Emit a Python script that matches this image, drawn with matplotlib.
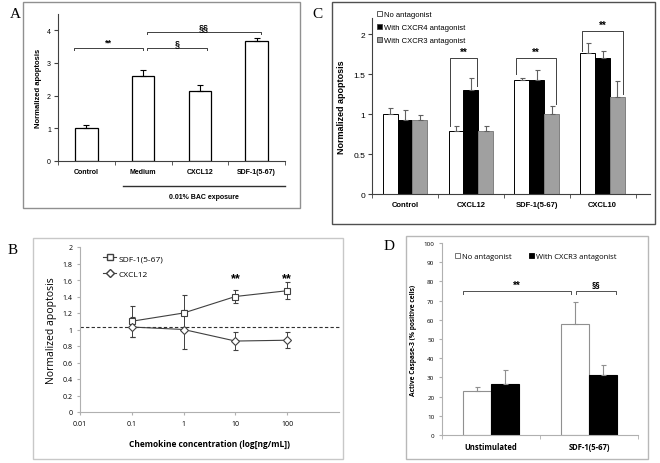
import matplotlib
matplotlib.use("Agg")
import matplotlib.pyplot as plt
import matplotlib.patches as mpatches
from matplotlib.lines import Line2D
import numpy as np

# ---------------- data ----------------
# Panel A
cats_A = ["Control", "Medium", "CXCL12", "SDF-1(5-67)"]
vals_A = [1.01, 2.59, 2.15, 3.67]
err_A = [0.09, 0.20, 0.19, 0.10]

# Panel C
cats_C = ["Control", "CXCL12", "SDF-1(5-67)", "CXCL10"]
series_C = ["No antagonist", "With CXCR4 antagonist", "With CXCR3 antagonist"]
no_ant_C = [1.00, 0.79, 1.42, 1.76]
no_ant_err_C = [0.07, 0.06, 0.03, 0.13]
cxcr4_C = [0.92, 1.30, 1.42, 1.70]
cxcr4_err_C = [0.13, 0.15, 0.13, 0.09]
cxcr3_C = [0.93, 0.79, 1.00, 1.21]
cxcr3_err_C = [0.06, 0.06, 0.10, 0.20]

# Panel B
conc_B = [0.1, 1, 10, 100]
sdf_B = [1.10, 1.20, 1.40, 1.47]
sdf_err_B = [0.19, 0.22, 0.08, 0.10]
cxcl12_B = [1.03, 1.00, 0.86, 0.87]
cxcl12_err_B = [0.12, 0.24, 0.11, 0.10]
baseline_B = 1.026
xtick_B = [0.01, 0.1, 1, 10, 100]
xticklabels_B = ["0.01", "0.1", "1", "10", "100"]

# Panel D
cats_D = ["Unstimulated", "SDF-1(5-67)"]
series_D = ["No antagonist", "With CXCR3 antagonist"]
no_ant_D = [23.0, 57.8]
no_ant_err_D = [2.2, 11.3]
cxcr3_D = [26.5, 31.3]
cxcr3_err_D = [7.5, 5.4]

# ---------------- figure ----------------
W, H = 660, 464
fig = plt.figure(figsize=(6.6, 4.64), dpi=100)
fig.patch.set_facecolor("white")

def rect(x0, y0, x1, y1):
    return [x0 / W, 1 - y1 / H, (x1 - x0) / W, (y1 - y0) / H]

def frame(x0, y0, x1, y1, color, lw=1.0):
    r = mpatches.Rectangle((x0 / W, 1 - y1 / H), (x1 - x0) / W, (y1 - y0) / H,
                           transform=fig.transFigure, fill=False, edgecolor=color, lw=lw)
    fig.patches.append(r)

frame(23, 3, 300, 209, "#909090")
frame(332, 3, 655, 225, "#505050")
frame(33, 239, 343, 460, "#c8c8c8")
frame(406, 237, 648, 460, "#b8b8b8")

serif = "Liberation Serif"
fig.text(10 / W, 1 - 15 / H, "A", fontsize=11, family=serif, va="center", ha="left")
fig.text(312 / W, 1 - 15 / H, "C", fontsize=11, family=serif, va="center", ha="left")
fig.text(8 / W, 1 - 250 / H, "B", fontsize=11, family=serif, va="center", ha="left")
fig.text(384 / W, 1 - 247 / H, "D", fontsize=11, family=serif, va="center", ha="left")

arial = "Liberation Sans"
calib = "Open Sans"

def bracket(ax, x0, x1, y, l0, l1, text, fs, family, dy, lw=0.7, color="#404040"):
    ax.plot([x0, x0, x1, x1], [l0, y, y, l1], color=color, lw=lw, clip_on=False)
    ax.text((x0 + x1) / 2, y + dy, text, ha="center", va="bottom", fontsize=fs,
            family=family, fontweight="bold")

# ---------------- Panel A ----------------
axA = fig.add_axes(rect(58, 15, 285, 162))
xA = np.arange(len(cats_A))
axA.bar(xA, vals_A, width=0.4, color="white", edgecolor="black", lw=0.9, zorder=2)
axA.errorbar(xA, vals_A, yerr=[np.zeros(len(err_A)), err_A], fmt="none",
             ecolor="black", elinewidth=0.8, capsize=2, capthick=0.8, zorder=3)
axA.set_xlim(-0.5, 3.5)
axA.set_ylim(0, 4.5)
axA.set_yticks([0, 1, 2, 3, 4])
axA.set_yticklabels(["0", "1", "2", "3", "4"], fontsize=5, family=arial)
axA.set_xticks(xA)
axA.set_xticklabels(cats_A, fontsize=5, family=arial, fontweight="bold")
axA.set_xticks(np.arange(-0.5, 3.6, 1), minor=True)
axA.tick_params(axis="x", which="major", length=0, pad=5)
axA.tick_params(axis="x", which="minor", length=3, direction="out", color="#404040")
axA.tick_params(axis="y", length=3, direction="out", color="#404040", pad=2)
for s in ["top", "right"]:
    axA.spines[s].set_visible(False)
for s in ["left", "bottom"]:
    axA.spines[s].set_color("#404040")
    axA.spines[s].set_linewidth(0.8)
axA.set_ylabel("Normalized apoptosis", fontsize=5.5, family=arial, fontweight="bold", labelpad=4)
bracket(axA, -0.22, 0.99, 3.47, 3.39, 3.39, "**", 6.5, arial, 0.02)
bracket(axA, 1.06, 2.13, 3.47, 3.39, 3.39, "§", 6.5, arial, 0.02)
bracket(axA, 1.06, 3.07, 3.96, 3.88, 3.88, "§§", 6.5, arial, 0.02)
axA.plot([0.645, 3.5], [-0.17, -0.17], transform=axA.get_xaxis_transform(),
         color="#303030", lw=1.0, clip_on=False)
axA.text(2.07, -0.24, "0.01% BAC exposure", transform=axA.get_xaxis_transform(),
         ha="center", va="center", fontsize=5, family=arial, fontweight="bold")

# ---------------- Panel C ----------------
axC = fig.add_axes(rect(372, 19, 650, 195))
xC = np.arange(len(cats_C))
bw = 0.225
colsC = ["white", "black", "#a0a0a0"]
valsC = [no_ant_C, cxcr4_C, cxcr3_C]
errsC = [no_ant_err_C, cxcr4_err_C, cxcr3_err_C]
for i in range(3):
    xi = xC + (i - 1) * bw
    axC.bar(xi, valsC[i], width=bw, color=colsC[i], edgecolor="black" if i < 2 else "#808080",
            lw=0.7, zorder=2, label=series_C[i])
    axC.errorbar(xi, valsC[i], yerr=[np.zeros(4), errsC[i]], fmt="none",
                 ecolor="#606060", elinewidth=0.8, capsize=1.8, capthick=0.8, zorder=3)
axC.set_xlim(-0.5, 3.72)
axC.set_ylim(0, 2.2)
axC.set_yticks([0, 0.5, 1, 1.5, 2])
axC.set_yticklabels(["0", "0.5", "1", "1.5", "2"], fontsize=6, family=arial)
axC.set_xticks(xC)
axC.set_xticklabels(cats_C, fontsize=5.5, family=arial, fontweight="bold")
axC.set_xticks(np.arange(-0.5, 3.6, 1), minor=True)
axC.tick_params(axis="x", which="major", length=0, pad=5)
axC.tick_params(axis="x", which="minor", length=3, direction="out", color="#404040")
axC.tick_params(axis="y", length=3, direction="out", color="#404040", pad=2)
for s in ["top", "right"]:
    axC.spines[s].set_visible(False)
for s in ["left", "bottom"]:
    axC.spines[s].set_color("#404040")
    axC.spines[s].set_linewidth(0.8)
axC.set_ylabel("Normalized apoptosis", fontsize=6.5, family=arial, fontweight="bold", labelpad=5)
hC = [mpatches.Patch(facecolor=colsC[i], edgecolor="#404040", lw=0.6, label=series_C[i]) for i in range(3)]
legC = axC.legend(handles=hC, loc="upper left", bbox_to_anchor=(0.0, 1.065), frameon=False,
                  prop={"family": arial, "size": 5.5}, handlelength=0.7, handleheight=0.7,
                  handletextpad=0.3, labelspacing=0.7, borderaxespad=0.2)
bracket(axC, 1 - 0.31, 1 + 0.10, 1.70, 0.85, 1.35, "**", 7, arial, 0.01)
bracket(axC, 2 - 0.32, 2 + 0.30, 1.70, 1.50, 1.12, "**", 7, arial, 0.01)
bracket(axC, 3 - 0.31, 3 + 0.31, 2.04, 1.79, 1.25, "**", 7, arial, 0.01)

# ---------------- Panel B ----------------
axB = fig.add_axes(rect(80, 248, 339, 413))
axB.axhline(baseline_B, color="#303030", lw=0.8, ls=(0, (3, 2)), clip_on=False, zorder=1)
axB.errorbar(conc_B, sdf_B, yerr=sdf_err_B, color="#404040", lw=0.8, marker="s", ms=5,
             mfc="white", mec="#404040", mew=0.8, ecolor="#404040", elinewidth=0.7,
             capsize=1.8, capthick=0.7, label="SDF-1(5-67)", zorder=3)
axB.errorbar(conc_B, cxcl12_B, yerr=cxcl12_err_B, color="#404040", lw=0.8, marker="D", ms=4.2,
             mfc="white", mec="#404040", mew=0.8, ecolor="#404040", elinewidth=0.7,
             capsize=1.8, capthick=0.7, label="CXCL12", zorder=3)
axB.set_xscale("log")
axB.set_xlim(0.01, 1000)
axB.set_ylim(0, 2)
axB.set_xticks(xtick_B)
axB.set_xticklabels(xticklabels_B, fontsize=5, family=calib)
axB.xaxis.set_minor_locator(matplotlib.ticker.NullLocator())
yB = np.round(np.arange(0, 2.01, 0.2), 1)
axB.set_yticks(yB)
axB.set_yticklabels([("%g" % v) for v in yB], fontsize=5, family=calib)
axB.tick_params(axis="both", length=2.5, direction="out", color="#b0b0b0", pad=3)
for s in ["top", "right"]:
    axB.spines[s].set_visible(False)
for s in ["left", "bottom"]:
    axB.spines[s].set_color("#b0b0b0")
    axB.spines[s].set_linewidth(0.8)
axB.set_ylabel("Normalized apoptosis", fontsize=7.5, family=calib, labelpad=4)
axB.set_xlabel("Chemokine concentration (log[ng/mL])", fontsize=6, family=calib,
               fontweight="bold", labelpad=9)
hB = [Line2D([], [], color="#404040", lw=0.8, marker="s", ms=5, mfc="white", mec="#404040"),
      Line2D([], [], color="#404040", lw=0.8, marker="D", ms=4.2, mfc="white", mec="#404040")]
axB.legend(hB, ["SDF-1(5-67)", "CXCL12"], loc="upper left", bbox_to_anchor=(0.06, 1.0),
           frameon=False, prop={"family": calib, "size": 6}, handlelength=1.6,
           handletextpad=0.3, labelspacing=0.9)
for xv in conc_B[2:]:
    axB.text(xv, 1.55, "**", ha="center", va="bottom", fontsize=9, fontweight="bold", family=arial)

# ---------------- Panel D ----------------
axD = fig.add_axes(rect(442, 244, 638, 436))
xD = np.arange(len(cats_D))
bwD = 0.29
axD.bar(xD - bwD / 2, no_ant_D, width=bwD, color="white", edgecolor="#909090", lw=0.8, zorder=2)
axD.bar(xD + bwD / 2, cxcr3_D, width=bwD, color="black", edgecolor="black", lw=0.8, zorder=2)
axD.errorbar(xD - bwD / 2, no_ant_D, yerr=[np.zeros(2), no_ant_err_D], fmt="none",
             ecolor="#909090", elinewidth=0.8, capsize=1.8, capthick=0.8, zorder=3)
axD.errorbar(xD + bwD / 2, cxcr3_D, yerr=[np.zeros(2), cxcr3_err_D], fmt="none",
             ecolor="#909090", elinewidth=0.8, capsize=1.8, capthick=0.8, zorder=3)
axD.set_xlim(-0.5, 1.5)
axD.set_ylim(0, 100)
axD.set_yticks(np.arange(0, 101, 10))
axD.set_yticklabels([str(v) for v in range(0, 101, 10)], fontsize=4.5, family=calib)
axD.set_xticks(xD)
axD.set_xticklabels(cats_D, fontsize=5.5, family=calib, fontweight="bold")
axD.set_xticks([-0.5, 0.5, 1.5], minor=True)
axD.tick_params(axis="x", which="major", length=0, pad=5)
axD.tick_params(axis="x", which="minor", length=3, direction="out", color="#b0b0b0")
axD.tick_params(axis="y", length=2.5, direction="out", color="#b0b0b0", pad=3)
for s in ["top", "right"]:
    axD.spines[s].set_visible(False)
for s in ["left", "bottom"]:
    axD.spines[s].set_color("#b0b0b0")
    axD.spines[s].set_linewidth(0.8)
axD.set_ylabel("Active Caspase-3 (% positive cells)", fontsize=4.8, family=calib,
               fontweight="bold", labelpad=5)
hD = [mpatches.Patch(facecolor="white", edgecolor="#606060", lw=0.6),
      mpatches.Patch(facecolor="black", edgecolor="black", lw=0.6)]
axD.legend(hD, series_D, loc="upper left", bbox_to_anchor=(0.03, 0.985), ncol=2, frameon=False,
           prop={"family": calib, "size": 5.5}, handlelength=0.7, handleheight=0.7,
           handletextpad=0.3, columnspacing=2.2)
bracket(axD, -0.29, 0.82, 74.9, 73.4, 73.4, "**", 7, arial, 0.8, color="#505050")
bracket(axD, 0.87, 1.28, 74.9, 73.4, 73.4, "§§", 6.5, calib, 0.8, color="#505050")

fig.savefig("out.png", dpi=100)
